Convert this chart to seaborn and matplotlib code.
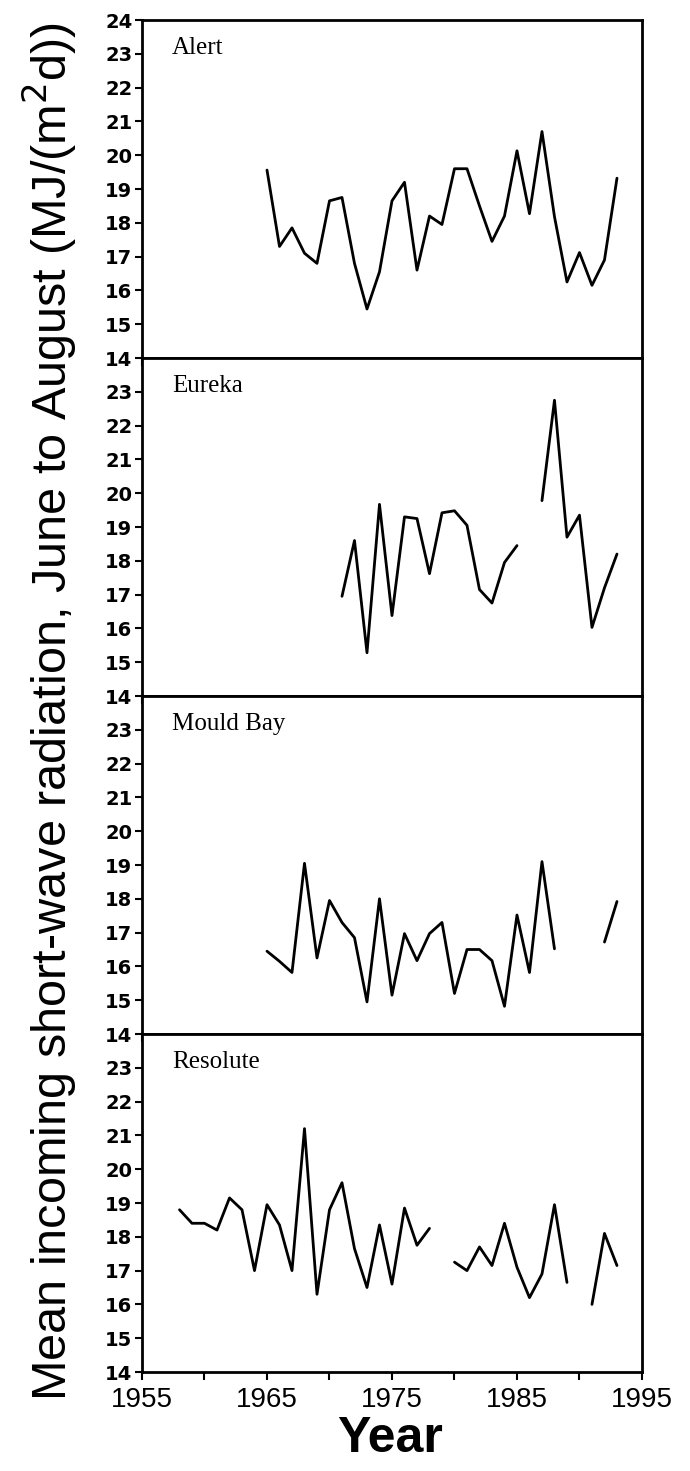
import numpy as np
import pandas as pd
import matplotlib
matplotlib.use("Agg")
import matplotlib.pyplot as plt
import seaborn as sns

stations = ["Alert", "Eureka", "Mould Bay", "Resolute"]

alert_years = list(range(1965, 1994))
alert_values = [19.56, 17.3, 17.85, 17.1, 16.8, 18.65, 18.75, 16.8, 15.45, 16.55,
                18.65, 19.2, 16.6, 18.2, 17.95, 19.6, 19.6, 18.5, 17.45, 18.2,
                20.13, 18.27, 20.7, 18.18, 16.25, 17.12, 16.15, 16.9, 19.32]

eureka_years = list(range(1971, 1994))
eureka_values = [16.95, 18.6, 15.28, 19.67, 16.38, 19.3, 19.25, 17.62, 19.42, 19.48,
                 19.05, 17.15, 16.75, 17.95, 18.45, np.nan, 19.78, 22.75, 18.7, 19.35,
                 16.03, 17.2, 18.2]

mould_years = list(range(1965, 1994))
mould_values = [16.45, 16.15, 15.82, 19.05, 16.25, 17.95, 17.3, 16.85, 14.95, 18.0,
                15.15, 16.97, 16.17, 16.97, 17.3, 15.2, 16.5, 16.5, 16.17, 14.82,
                17.52, 15.82, 19.1, 16.52, np.nan, np.nan, np.nan, 16.72, 17.92]

resolute_years = list(range(1958, 1994))
resolute_values = [18.8, 18.4, 18.4, 18.2, 19.15, 18.8, 17.0, 18.95, 18.35, 17.0,
                   21.2, 16.3, 18.8, 19.6, 17.65, 16.5, 18.35, 16.6, 18.85, 17.75,
                   18.25, np.nan, 17.25, 17.0, 17.7, 17.15, 18.4, 17.1, 16.2, 16.9,
                   18.95, 16.65, np.nan, 16.0, 18.1, 17.15]

series = [
    (alert_years, alert_values),
    (eureka_years, eureka_values),
    (mould_years, mould_values),
    (resolute_years, resolute_values),
]

x_ticks = list(range(1955, 1996, 5))
x_labels = ["1955", "", "1965", "", "1975", "", "1985", "", "1995"]


def to_frame(yrs, vals):
    df = pd.DataFrame({"year": yrs, "value": vals})
    # break the line wherever a year is missing
    df["segment"] = df["value"].isna().cumsum()
    return df.dropna()


sns.set_style("ticks")
plt.rcParams["font.family"] = ["Liberation Sans", "DejaVu Sans"]
plt.rcParams["text.color"] = "black"
plt.rcParams["xtick.color"] = "black"
plt.rcParams["ytick.color"] = "black"

fig, axes = plt.subplots(4, 1, figsize=(6.9, 14.71), dpi=100, sharex=True)
fig.subplots_adjust(left=0.2058, right=0.9304, top=0.9864, bottom=0.0673, hspace=0)

for i, (ax, name, (yrs, vals)) in enumerate(zip(axes, stations, series)):
    df = to_frame(yrs, vals)
    sns.lineplot(data=df, x="year", y="value", units="segment", estimator=None,
                 color="black", linewidth=2.0, ax=ax)
    ax.set_xlim(1955, 1995)
    ax.set_ylim(14, 24)
    if i == 0:
        ax.set_yticks(range(14, 25))
    else:
        ax.set_yticks(range(14, 24))
    for lab in ax.get_yticklabels():
        lab.set_fontfamily("DejaVu Sans")
        lab.set_fontweight("bold")
        lab.set_fontsize(14)
    ax.set_xticks(x_ticks)
    ax.tick_params(axis="y", direction="out", length=5, width=1.5, pad=2)
    ax.tick_params(axis="x", direction="out", length=6, width=1.5)
    for sp in ax.spines.values():
        sp.set_visible(True)
        sp.set_linewidth(2.0)
        sp.set_color("black")
    ax.set_xlabel("")
    ax.set_ylabel("")
    ax.text(0.06, 0.95, name, transform=ax.transAxes, family="Liberation Serif",
            fontsize=18, va="top", ha="left", color="black")

axes[-1].set_xticklabels(x_labels, fontsize=20)
axes[-1].tick_params(axis="x", pad=5)

fig.text(0.072, 0.516, "Mean incoming short-wave radiation, June to August (MJ/(m$^2$d))",
         rotation=90, ha="center", va="center", fontsize=35)
fig.text(0.565, 0.006, "Year", ha="center", va="bottom", fontsize=36, fontweight="bold")

fig.savefig("out.png", dpi=100)
